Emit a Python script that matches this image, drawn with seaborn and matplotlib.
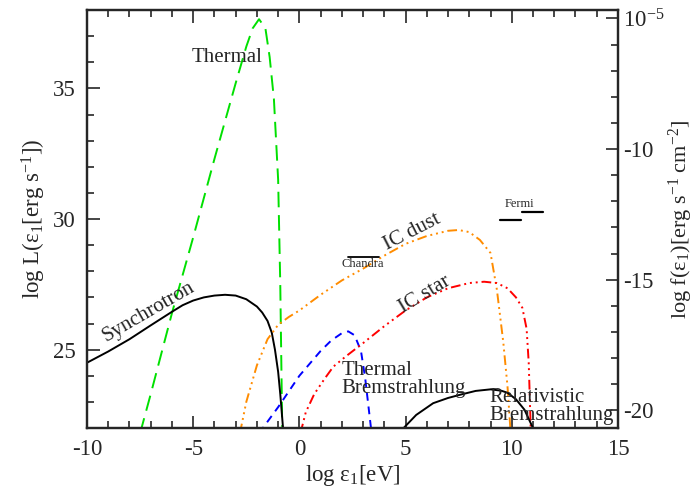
import numpy as np
import pandas as pd
import matplotlib
matplotlib.use("Agg")
import matplotlib.pyplot as plt
from matplotlib.ticker import MultipleLocator, FixedLocator, FixedFormatter
import seaborn as sns

# Spectral components (log eps in eV, log L in erg/s)
thermal_x = [-7.5, -7.0, -6.0, -5.0, -4.0, -3.0, -2.5, -2.2, -1.9, -1.6, -1.4, -1.2, -1.0, -0.9, -0.8]
thermal_y = [21.8, 23.3, 26.4, 29.3, 32.3, 35.2, 36.6, 37.3, 37.65, 37.3, 36.2, 34.6, 31.5, 27.5, 21.5]

sync_x = [-10, -9, -8, -7, -6, -5.5, -5, -4.5, -4, -3.5, -3, -2.5, -2, -1.75, -1.5, -1.3, -1.15, -1.0, -0.9, -0.8, -0.75]
sync_y = [24.5, 24.93, 25.4, 25.93, 26.45, 26.7, 26.88, 27.0, 27.07, 27.1, 27.07, 26.93, 26.65, 26.42, 26.1, 25.65, 25.0, 24.15, 23.3, 22.3, 21.8]

icdust_x = [-2.8, -2.5, -2.0, -1.5, -1.0, -0.5, 0, 1, 2, 3, 4, 5, 6, 7, 7.5, 8, 8.5, 9, 9.3, 9.6, 9.8, 9.95]
icdust_y = [21.8, 23.0, 24.4, 25.4, 25.95, 26.25, 26.5, 27.1, 27.65, 28.1, 28.6, 29.05, 29.35, 29.55, 29.58, 29.5, 29.2, 28.7, 27.3, 25.3, 23.6, 21.8]

brems_x = [-1.9, -1.0, 0, 1, 1.5, 2, 2.3, 2.6, 2.9, 3.1, 3.3, 3.4]
brems_y = [21.8, 22.8, 24.0, 24.95, 25.35, 25.63, 25.7, 25.55, 24.95, 23.9, 22.5, 21.8]

icstar_x = [0.05, 0.3, 0.7, 1.2, 1.6, 2.2, 3, 4, 5, 6, 7, 8, 8.7, 9.3, 9.8, 10.2, 10.5, 10.7, 10.8, 10.9]
icstar_y = [21.8, 22.6, 23.3, 23.9, 24.35, 24.75, 25.25, 25.9, 26.5, 27.0, 27.35, 27.55, 27.6, 27.55, 27.35, 27.0, 26.6, 25.8, 24.5, 21.8]

relbrems_x = [4.85, 5.5, 6.3, 7, 7.6, 8.3, 9, 9.5, 9.8, 10.2, 10.6, 11.0]
relbrems_y = [21.95, 22.5, 22.95, 23.15, 23.28, 23.42, 23.48, 23.43, 23.35, 23.1, 22.7, 22.0]

# instrument bands: (x start, x end, log L)
chandra_band = (2.3, 3.75, 28.55)
fermi_bands = [(9.45, 10.45, 29.95), (10.5, 11.45, 30.25)]

right_ticks = [-5, -10, -15, -20]
right_labels = ["$10^{-5}$", "-10", "-15", "-20"]
offset = 42.68  # log L - log f

sns.set_style("ticks")
plt.rcParams["font.family"] = ["Liberation Serif", "DejaVu Serif"]
plt.rcParams["mathtext.fontset"] = "custom"
plt.rcParams["mathtext.rm"] = "Liberation Serif"
plt.rcParams["mathtext.it"] = "Liberation Serif:italic"
plt.rcParams["axes.unicode_minus"] = False

fig = plt.figure(figsize=(6.99, 4.90), dpi=100)
ax = fig.add_axes([0.1245, 0.1265, 0.7595, 0.853])

curves = [
    (thermal_x, thermal_y, "#00e000", (0, (8, 4))),
    (sync_x, sync_y, "black", "-"),
    (icdust_x, icdust_y, "#ff8c00", (0, (5, 2, 1, 2, 1, 2, 1, 2))),
    (brems_x, brems_y, "#0000ff", (0, (4, 3))),
    (icstar_x, icstar_y, "#ff0000", (0, (5, 2, 1, 2, 1, 2, 1, 2))),
    (relbrems_x, relbrems_y, "black", "-"),
]
for xs, ys, col, ls in curves:
    df = pd.DataFrame({"x": xs, "y": ys})
    sns.lineplot(data=df, x="x", y="y", ax=ax, color=col, linestyle=ls,
                 linewidth=1.4, estimator=None, sort=False)

# instrument bands
ax.plot(chandra_band[:2], [chandra_band[2]] * 2, color="black", lw=1.3)
for b in fermi_bands:
    ax.plot(b[:2], [b[2]] * 2, color="black", lw=1.6)

ax.set_xlim(-10, 15)
ax.set_ylim(22, 38)
ax.xaxis.set_major_locator(MultipleLocator(5))
ax.xaxis.set_minor_locator(MultipleLocator(1))
ax.yaxis.set_major_locator(MultipleLocator(5))
ax.yaxis.set_minor_locator(MultipleLocator(1))
ax.tick_params(which="both", direction="in", top=True, right=False, width=1.2,
               labelsize=16.5, pad=8)
ax.tick_params(which="major", length=9)
ax.tick_params(which="minor", length=5)
for s in ax.spines.values():
    s.set_linewidth(1.6)

ax.set_xlabel("log ε$_1$[eV]", fontsize=16.5, labelpad=2)
ax.set_ylabel("log L(ε$_1$[erg s$^{-1}$])", fontsize=16.5, labelpad=4)

ax2 = ax.twinx()
ax2.set_ylim(22 - offset, 38 - offset)
ax2.yaxis.set_major_locator(FixedLocator(right_ticks))
ax2.yaxis.set_major_formatter(FixedFormatter(right_labels))
ax2.yaxis.set_minor_locator(MultipleLocator(1))
ax2.tick_params(which="both", direction="in", width=1.2, labelsize=16.5, pad=4)
ax2.tick_params(which="major", length=9)
ax2.tick_params(which="minor", length=5)
ax2.set_ylabel("log f(ε$_1$)[erg s$^{-1}$ cm$^{-2}$]", fontsize=16, labelpad=1)
for s in ax2.spines.values():
    s.set_linewidth(1.6)

# component labels
ax.text(-3.4, 36.2, "Thermal", fontsize=15, ha="center", va="center")
ax.text(-7.1, 26.45, "Synchrotron", fontsize=15, ha="center", va="center", rotation=30)
ax.text(5.3, 29.5, "IC dust", fontsize=15, ha="center", va="center", rotation=27)
ax.text(5.9, 27.1, "IC star", fontsize=15, ha="center", va="center", rotation=31)
ax.text(2.0, 23.85, "Thermal\nBremstrahlung", fontsize=15, ha="left", va="center",
        linespacing=0.95)
ax.text(8.93, 22.82, "Relativistic\nBremstrahlung", fontsize=15, ha="left", va="center",
        linespacing=0.92)
ax.text(3.0, 28.27, "Chandra", fontsize=9, ha="center", va="center")
ax.text(10.36, 30.57, "Fermi", fontsize=9, ha="center", va="center")

fig.savefig("out.png", dpi=100)
